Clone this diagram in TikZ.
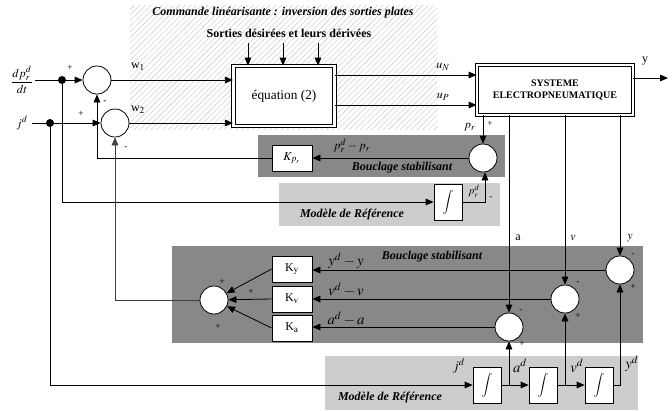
\documentclass[tikz,border=0pt]{standalone}
\usepackage{mathptmx}
\usepackage{fontspec}
\setmainfont{Liberation Serif}
\usepackage{tikz}
\usetikzlibrary{positioning}
\usetikzlibrary{shapes.geometric, arrows.meta, patterns.meta}
\usetikzlibrary{calc, shapes, backgrounds}
\tikzstyle{arrow} = [->, >={Triangle[length=6pt, width=5pt]}]
\definecolor{bandDark}{RGB}{136,136,136}
\definecolor{bandLight}{RGB}{205,205,205}

\begin{document}
\begin{tikzpicture}[
    x = 0.75pt, y = -0.75pt, line width = 0.6pt,
    font = \fontsize{9}{10}\selectfont,
    sum/.style = {draw, circle, fill = white, minimum size = 21pt, inner sep = 0pt},
    gain/.style = {draw, rectangle, fill = white, minimum width = 30pt, minimum height = 19.5pt, inner sep = 0pt},
    integ/.style = {draw, rectangle, fill = white, minimum width = 21pt, minimum height = 27pt, inner sep = 0pt},
    bigbox/.style = {draw, rectangle, double, double distance = 2.2pt, fill = white, inner sep = 0pt, align = center},
    band/.style = {font = \fontsize{9}{10}\selectfont\bfseries\itshape},
    sign/.style = {font = \fontsize{7}{8}\selectfont, inner sep = 0pt}
  ]
  \useasboundingbox (0,0) rectangle (672,411);

  % Backgrounds
  \fill[pattern = {Lines[angle = 45, distance = 3pt, line width = 0.3pt]}, pattern color = gray!45] (130,5) rectangle (437,129);
  \fill[bandDark]  (258,135) rectangle (505,177);
  \fill[bandLight] (279,183) rectangle (500,226);
  \fill[bandDark]  (172,246) rectangle (643,343);
  \fill[bandLight] (325,356) rectangle (638,410);

  % Blocks
  \node[sum] (S1) at (97,80) {};
  \node[sum] (S2) at (115,123) {};
  \node[bigbox, minimum width = 76pt, minimum height = 45pt, font = \fontsize{10}{12}\selectfont] (eq) at (284,96) {équation (2)};
  \node[bigbox, minimum width = 117pt, minimum height = 37.5pt, font = \fontsize{7.5}{9}\selectfont\bfseries] (sys) at (555,90) {SYSTEME\\ELECTROPNEUMATIQUE};
  \node[sum] (Sp) at (483,158) {};
  \node[gain] (Kpr) at (292,158) {$K_{p_r}$};
  \node[integ] (Ip) at (448,202) {$\displaystyle\int$};

  \node[sum] (Sy) at (620,270) {};
  \node[sum] (Sv) at (565,299) {};
  \node[sum] (Sa) at (509,327) {};
  \node[gain] (Ky) at (292,269) {K$_\mathrm{y}$};
  \node[gain] (Kv) at (292,299) {K$_\mathrm{v}$};
  \node[gain] (Ka) at (292,328) {K$_\mathrm{a}$};
  \node[sum] (SK) at (214,300) {};
  \node[integ] (Ij) at (487,385) {$\displaystyle\int$};
  \node[integ] (Ia) at (543,385) {$\displaystyle\int$};
  \node[integ] (Iv) at (599,385) {$\displaystyle\int$};

  % Inputs
  \node[inner sep = 1pt] (dp) at (22,80) {$\displaystyle\frac{dp^{d}_{r}}{dt}$};
  \node (jd) at (22,123) {$j^{d}$};
  \coordinate (dot1) at (62,80);
  \coordinate (dot2) at (50,123);
  \coordinate (uN) at (400,75);
  \coordinate (uP) at (400,105);
  \coordinate (yout) at (668,78);
  \coordinate (ba) at (509,385);
  \coordinate (bv) at (565,385);
  \foreach \x [count = \i] in {248,283,318} \coordinate (t\i) at (\x,43);

  % Connectors
  \draw (dp.east) -- (dot1);
  \draw[arrow] (dot1) -- (S1.west);
  \draw (jd.east) -- (dot2);
  \draw[arrow] (dot2) -- (S2.west);
  \fill (dot1) circle (3pt);
  \fill (dot2) circle (3pt);
  \draw[arrow] (S1.east) -- (S1 -| eq.west);
  \draw[arrow] (S2.east) -- (S2 -| eq.west);
  \foreach \i in {1,2,3} \draw[arrow] (t\i) -- (t\i |- eq.north);
  \draw[arrow] (eq.east |- uN) -- (sys.west |- uN);
  \draw[arrow] (eq.east |- uP) -- (sys.west |- uP);
  \draw[arrow] (sys.east |- yout) -- (yout);

  \draw[arrow] (sys.south -| Sp) -- (Sp.north);
  \draw[arrow] (Sp.west) -- (Kpr.east);
  \draw[arrow] (Kpr.west) -| (S1.south);
  \draw[arrow] (dot1) |- (Ip.west);
  \draw[arrow] (Ip.east) -| ([xshift = 1.5pt]Sp.south);

  \draw[arrow] (sys.south -| Sy) -- (Sy.north);
  \draw[arrow] (sys.south -| Sv) -- (Sv.north);
  \draw[arrow] (sys.south -| Sa) -- (Sa.north);
  \draw[arrow] (Sy.west) -- (Sy -| Ky.east);
  \draw[arrow] (Sv.west) -- (Sv -| Kv.east);
  \draw[arrow] (Sa.west) -- (Sa -| Ka.east);
  \draw[arrow] (Ky.west) -- (SK);
  \draw[arrow] (Kv.west) -- (SK);
  \draw[arrow] (Ka.west) -- (SK);
  \draw[arrow, black!75] (SK.west) -| (S2.south);

  \draw[arrow] (dot2) |- (Ij.west);
  \draw[arrow] (Ij) -- (Ia);
  \draw[arrow] (Ia) -- (Iv);
  \draw[arrow] (ba) -- (Sa.south);
  \draw[arrow] (bv) -- (Sv.south);
  \draw[arrow] (Iv.east) -| (Sy.south);

  % Labels
  \begin{scope}[nodes = {inner sep = 1pt}]
    \node[band] (cmd) at (283,13) {Commande linéarisante : inversion des sorties plates};
    \node[font = \fontsize{9}{10}\selectfont\bfseries] (sd) at (289,33) {Sorties désirées et leurs dérivées};
    \node (w1) at (138,67) {w$_1$};
    \node (w2) at (138,110) {w$_2$};
    \node (uNl) at (443,67) {$u_N$};
    \node (uPl) at (443,97) {$u_P$};
    \node (yl) at (645,61) {y};
    \node (prl) at (470,127) {$p_r$};
    \node (prd) at (352,146) {$p^{d}_{r} - p_r$};
    \node[font = \fontsize{8}{9}\selectfont] (prdl) at (474,191) {$p^{d}_{r}$};
    \node[band] (bs1) at (402,168) {Bouclage stabilisant};
    \node[band] (mr1) at (352,215) {Modèle de Référence};
    \node (al) at (518,238) {a};
    \node (vl) at (573,238) {$v$};
    \node (yl2) at (630,238) {$y$};
    \node[band] (bs2) at (432,257) {Bouclage stabilisant};
    \node[font = \fontsize{11}{12}\selectfont] (eyl) at (346,261) {$y^{d} - y$};
    \node[font = \fontsize{11}{12}\selectfont] (evl) at (346,290) {$v^{d} - v$};
    \node[font = \fontsize{11}{12}\selectfont] (eal) at (346,319) {$a^{d} - a$};
    \node[band] (mr2) at (390,398) {Modèle de Référence};
    \node[font = \fontsize{10}{12}\selectfont] (jdl) at (459,366) {$j^{d}$};
    \node[font = \fontsize{11}{12}\selectfont] (adl) at (520,366) {$a^{d}$};
    \node[font = \fontsize{11}{12}\selectfont] (vdl) at (577,366) {$v^{d}$};
    \node[font = \fontsize{11}{12}\selectfont] (ydl) at (632,364) {$y^{d}$};
  \end{scope}

  \begin{scope}[nodes = {sign}]
    \node at (70,68) {+};
    \node at (105,102) {-};
    \node at (81,114) {+};
    \node at (126,148) {-};
    \node at (490,124) {+};
    \node at (491,198) {-};
    \node at (633,255) {-};
    \node at (633,287) {+};
    \node at (578,283) {-};
    \node at (578,316) {+};
    \node at (521,311) {-};
    \node at (522,344) {+};
    \node at (222,282) {+};
    \node at (251,292) {+};
    \node at (218,327) {+};
  \end{scope}
\end{tikzpicture}
\end{document}
